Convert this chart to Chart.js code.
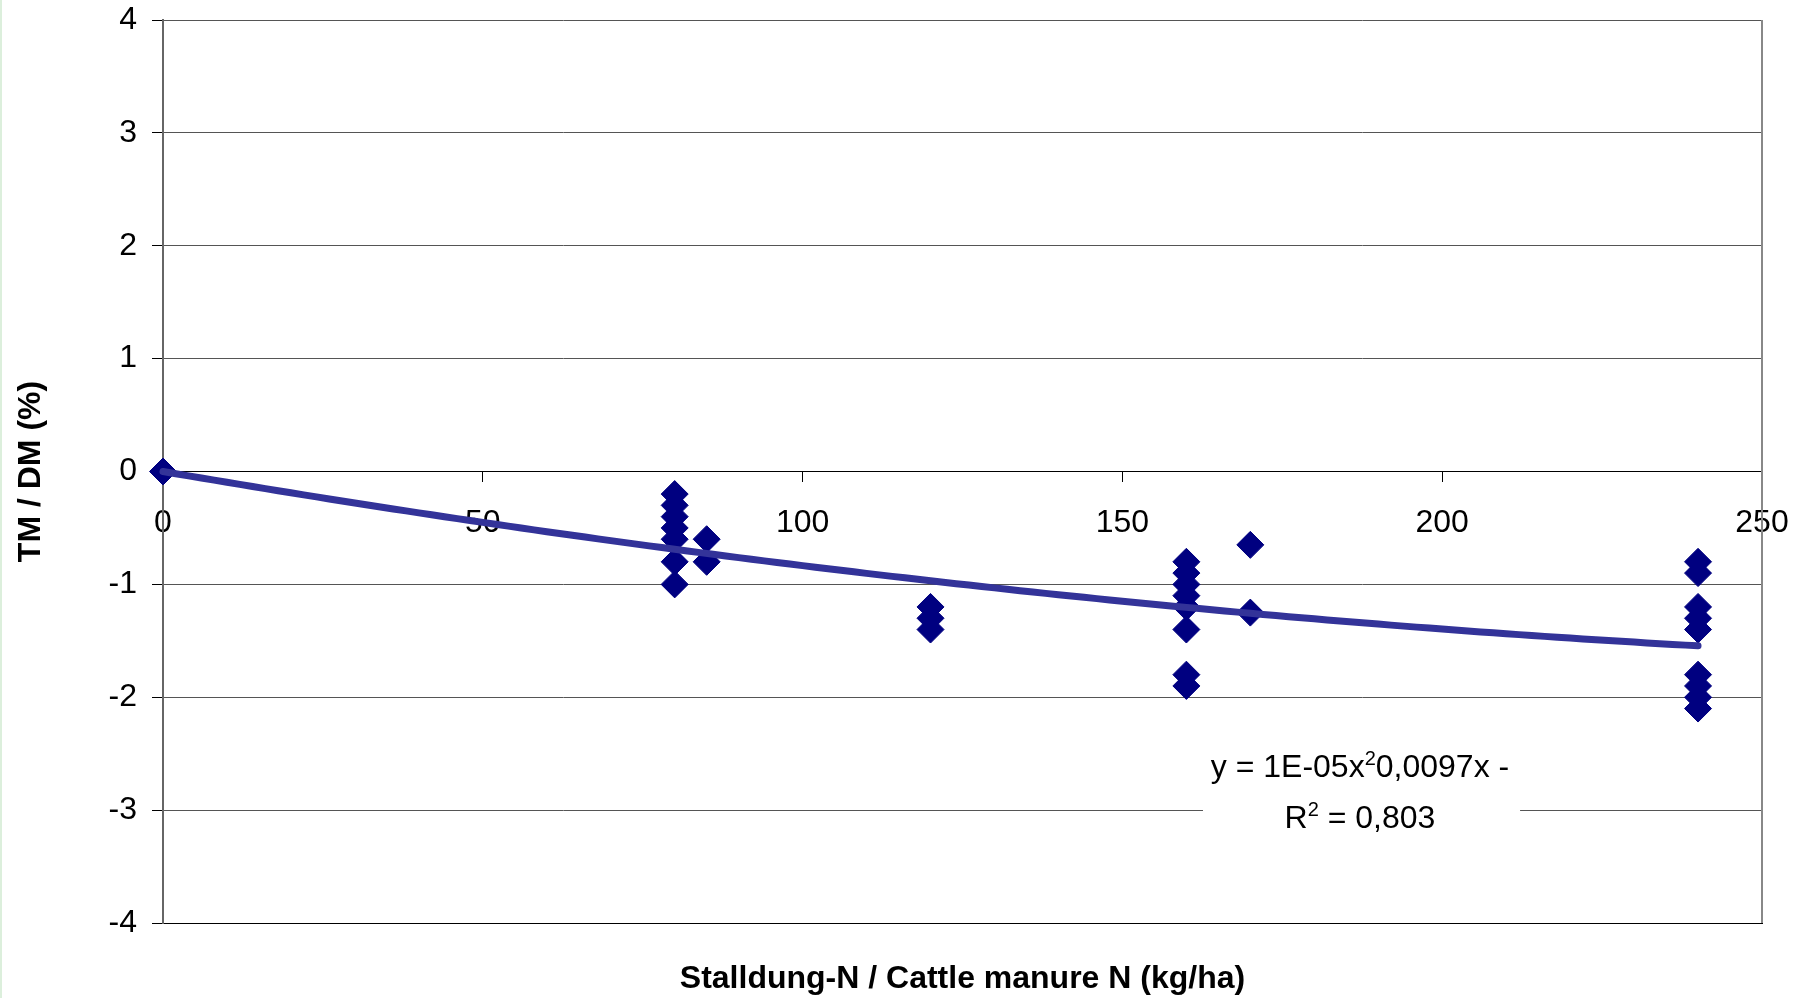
<!DOCTYPE html>
<html>
<head>
<meta charset="utf-8">
<script src="https://cdn.jsdelivr.net/npm/chart.js@4.4.1/dist/chart.umd.min.js"></script>
<style>
  html, body { margin: 0; padding: 0; background: #fff; }
  canvas { display: block; }
</style>
</head>
<body>
<canvas id="chart" width="1808" height="998"></canvas>
<script>
// Cattle manure N applied per plot (kg/ha)
const manureN = [
  0,
  80, 80, 80, 80, 80, 80, 80,
  85, 85,
  120, 120, 120,
  160, 160, 160, 160, 160, 160, 160, 160,
  170, 170,
  240, 240, 240, 240, 240, 240, 240, 240, 240
];
// Change in dry matter content (%)
const dmChange = [
  0,
  -0.2, -0.3, -0.4, -0.5, -0.6, -0.8, -1.0,
  -0.6, -0.8,
  -1.2, -1.3, -1.4,
  -0.8, -0.9, -1.0, -1.1, -1.2, -1.4, -1.8, -1.9,
  -0.65, -1.25,
  -0.8, -0.9, -1.2, -1.3, -1.4, -1.8, -1.9, -2.0, -2.1
];
const xTicks = [0, 50, 100, 150, 200, 250];
const yTicks = [-4, -3, -2, -1, 0, 1, 2, 3, 4];

// Polynomial trendline y = a·x² + b·x + c over the applied range
const trendCoef = [1.36e-5, -0.0097, 0];
const trendRange = [0, 240];
const trendStep = 2;
const trendLabel = ['y = 1E-05x', '2', '0,0097x -'];
const r2Label = ['R', '2', ' = 0,803'];

const FONT = "'Liberation Sans', Arial, Helvetica, sans-serif";
Chart.defaults.font.family = FONT;
Chart.defaults.color = '#000';

const scatterPoints = manureN.map((x, i) => ({ x, y: dmChange[i] }));
const trendPoints = [];
for (let x = trendRange[0]; x <= trendRange[1]; x += trendStep) {
  trendPoints.push({ x, y: trendCoef[0] * x * x + trendCoef[1] * x + trendCoef[2] });
}

// Tick labels may overhang the plot area; keep the plot box fixed by the layout padding
const noOverhang = s => {
  s.paddingTop = 0; s.paddingBottom = 0; s.paddingLeft = 0; s.paddingRight = 0;
};

// White page, thin green rule at the left edge, plot frame and the equation box
const chrome = {
  id: 'chrome',
  beforeDraw(chart) {
    const { ctx, width, height } = chart;
    ctx.save();
    ctx.fillStyle = '#fff';
    ctx.fillRect(0, 0, width, height);
    ctx.fillStyle = '#dcefdc';
    ctx.fillRect(0, 0, 2, height);
    ctx.restore();
  },
  beforeDatasetsDraw(chart) {
    const { ctx, chartArea: a } = chart;
    ctx.save();
    ctx.strokeStyle = '#888';
    ctx.lineWidth = 2;
    ctx.beginPath();
    ctx.moveTo(a.right, a.top);
    ctx.lineTo(a.right, a.bottom);
    ctx.stroke();
    ctx.restore();
  },
  afterDraw(chart) {
    const { ctx, chartArea: a } = chart;
    const w = a.right - a.left, h = a.bottom - a.top;
    const px = f => a.left + f * w;
    const py = f => a.top + f * h;
    ctx.save();
    ctx.fillStyle = '#fff';
    ctx.fillRect(px(0.6504), py(0.8029), px(0.8487) - px(0.6504), py(0.9103) - py(0.8029));

    const baseFont = `32px ${FONT}`;
    const supFont = `20px ${FONT}`;
    const drawLine = (parts, cx, baseline) => {
      ctx.font = baseFont;
      const w0 = ctx.measureText(parts[0]).width;
      const w2 = ctx.measureText(parts[2]).width;
      ctx.font = supFont;
      const w1 = ctx.measureText(parts[1]).width;
      let x = cx - (w0 + w1 + w2) / 2;
      ctx.fillStyle = '#000';
      ctx.textBaseline = 'alphabetic';
      ctx.textAlign = 'left';
      ctx.font = baseFont;
      ctx.fillText(parts[0], x, baseline);
      x += w0;
      ctx.font = supFont;
      ctx.fillText(parts[1], x, baseline - 12);
      x += w1;
      ctx.font = baseFont;
      ctx.fillText(parts[2], x, baseline);
    };
    const cx = px(0.7486);
    drawLine(trendLabel, cx, py(0.8383));
    drawLine(r2Label, cx, py(0.8948));
    ctx.restore();
  }
};

new Chart(document.getElementById('chart'), {
  type: 'scatter',
  data: {
    datasets: [
      {
        type: 'line',
        label: 'Trend',
        data: trendPoints,
        borderColor: '#333399',
        borderWidth: 7,
        borderCapStyle: 'round',
        pointRadius: 0,
        fill: false,
        tension: 0,
        clip: false,
        order: 0
      },
      {
        label: 'TM / DM',
        data: scatterPoints,
        pointStyle: 'rectRot',
        pointRadius: 13.5,
        pointBackgroundColor: '#000080',
        pointBorderColor: '#000080',
        pointBorderWidth: 1,
        clip: false,
        order: 1
      }
    ]
  },
  options: {
    responsive: false,
    animation: false,
    events: [],
    layout: { padding: { top: 20, right: 46, bottom: 0, left: 0 } },
    plugins: {
      legend: { display: false },
      tooltip: { enabled: false }
    },
    scales: {
      x: {
        type: 'linear',
        position: { y: 0 },
        min: xTicks[0],
        max: xTicks[xTicks.length - 1],
        afterBuildTicks: s => { s.ticks = xTicks.map(v => ({ value: v })); },
        afterFit: noOverhang,
        ticks: { font: { size: 32 }, color: '#000', padding: 22, maxRotation: 0 },
        grid: { display: true, drawOnChartArea: false, drawTicks: true, tickLength: 10, tickColor: '#000', tickWidth: 1 },
        border: { display: true, color: '#000', width: 1 }
      },
      xb: {
        type: 'linear',
        position: 'bottom',
        min: xTicks[0],
        max: xTicks[xTicks.length - 1],
        ticks: { display: false },
        grid: { display: false, drawTicks: false },
        border: { display: true, color: '#000', width: 1 },
        title: {
          display: true,
          text: 'Stalldung-N / Cattle manure N (kg/ha)',
          font: { size: 32, weight: 'bold' },
          color: '#000',
          padding: { top: 36, bottom: 0 }
        },
        afterFit: s => { noOverhang(s); s.height = 75; }
      },
      y: {
        type: 'linear',
        position: 'left',
        min: yTicks[0],
        max: yTicks[yTicks.length - 1],
        afterBuildTicks: s => { s.ticks = yTicks.map(v => ({ value: v })); },
        ticks: { font: { size: 32 }, color: '#000', padding: 15 },
        grid: { color: '#555', lineWidth: 1, drawTicks: true, tickLength: 11, tickColor: '#000', tickWidth: 1 },
        border: { display: true, color: '#666', width: 2 },
        title: {
          display: true,
          text: 'TM / DM (%)',
          font: { size: 32, weight: 'bold' },
          color: '#000',
          padding: { top: 12, bottom: 0 }
        },
        afterFit: s => { noOverhang(s); s.width = 163; }
      }
    }
  },
  plugins: [chrome]
});
</script>
</body>
</html>
